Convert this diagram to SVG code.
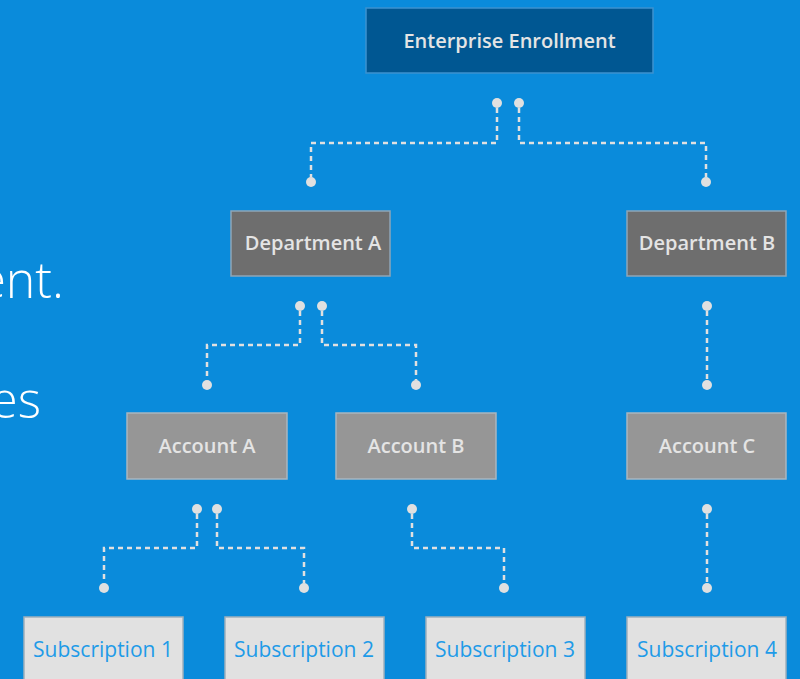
<svg xmlns="http://www.w3.org/2000/svg" width="800" height="679" viewBox="0 0 800 679">
<style>
.box{stroke-width:1.5}
.ent{fill:#005792;stroke:#3d92cf}
.dep{fill:#6e6e6e;stroke:#8fa6b8}
.acc{fill:#969696;stroke:#a9b6c0}
.sub{fill:#e1e1e1;stroke:#9fb0bc}
.lbl{font-family:"Open Sans","Noto Sans","Liberation Sans",sans-serif;font-size:20px;font-weight:600;text-anchor:middle}
.lt{fill:#e4e4e4}
.bl{fill:#1e9be8;font-weight:normal;font-size:21px}
.big{font-family:"Open Sans","Lato","Liberation Sans",sans-serif;font-weight:300;font-size:50px;fill:#ffffff;text-anchor:end}
.con path{fill:none;stroke:#e0e0e0;stroke-width:2.5;stroke-dasharray:5 4}
.con circle{fill:#e0e0e0}
</style>
<rect width="800" height="679" fill="#0a8bdb"/>
<text class="big" x="64" y="298">ent.</text>
<text class="big" x="41" y="418">es</text>
<g class="con" id="connectors">
<path d="M497 108 V143 H311 V177"/>
<path d="M519 108 V143 H706 V177"/>
<path d="M300 311 V345 H207 V380"/>
<path d="M322 311 V345 H416 V380"/>
<path d="M707 311 V380"/>
<path d="M197 514 V548 H104 V583"/>
<path d="M217 514 V548 H304 V583"/>
<path d="M412 514 V548 H504 V583"/>
<path d="M707 514 V583"/>
<circle cx="497" cy="103" r="5"/><circle cx="519" cy="103" r="5"/>
<circle cx="311" cy="182" r="5"/><circle cx="706" cy="182" r="5"/>
<circle cx="300" cy="306" r="5"/><circle cx="322" cy="306" r="5"/>
<circle cx="207" cy="385" r="5"/><circle cx="416" cy="385" r="5"/>
<circle cx="707" cy="306" r="5"/><circle cx="707" cy="385" r="5"/>
<circle cx="197" cy="509" r="5"/><circle cx="217" cy="509" r="5"/>
<circle cx="104" cy="588" r="5"/><circle cx="304" cy="588" r="5"/>
<circle cx="412" cy="509" r="5"/><circle cx="504" cy="588" r="5"/>
<circle cx="707" cy="509" r="5"/><circle cx="707" cy="588" r="5"/>
</g>
<g id="enterprise"><rect class="box ent" x="366" y="8" width="287" height="65"/><text class="lbl lt" x="509.5" y="48">Enterprise Enrollment</text></g>
<g id="deptA"><rect class="box dep" x="231" y="211" width="159" height="65"/><text class="lbl lt" x="313" y="250">Department A</text></g>
<g id="deptB"><rect class="box dep" x="627" y="211" width="159" height="65"/><text class="lbl lt" x="707" y="250">Department B</text></g>
<g id="accA"><rect class="box acc" x="127" y="413" width="160" height="66"/><text class="lbl lt" x="207" y="453">Account A</text></g>
<g id="accB"><rect class="box acc" x="336" y="413" width="160" height="66"/><text class="lbl lt" x="416" y="453">Account B</text></g>
<g id="accC"><rect class="box acc" x="627" y="413" width="159" height="66"/><text class="lbl lt" x="707" y="453">Account C</text></g>
<g id="sub1"><rect class="box sub" x="24" y="617" width="159" height="70"/><text class="lbl bl" x="103" y="657">Subscription 1</text></g>
<g id="sub2"><rect class="box sub" x="225" y="617" width="159" height="70"/><text class="lbl bl" x="304" y="657">Subscription 2</text></g>
<g id="sub3"><rect class="box sub" x="426" y="617" width="159" height="70"/><text class="lbl bl" x="505" y="657">Subscription 3</text></g>
<g id="sub4"><rect class="box sub" x="627" y="617" width="159" height="70"/><text class="lbl bl" x="707" y="657">Subscription 4</text></g>
</svg>
